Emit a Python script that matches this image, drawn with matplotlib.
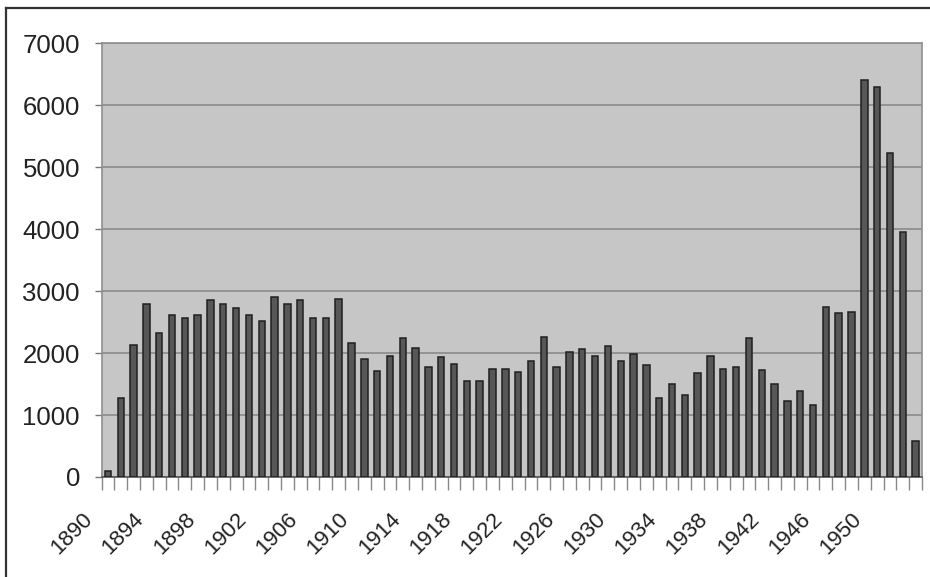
import matplotlib
matplotlib.use("Agg")
import matplotlib.pyplot as plt
import matplotlib.transforms as mtransforms
import numpy as np

plt.rcParams['font.family'] = ['Liberation Sans', 'DejaVu Sans']

years = list(range(1890, 1954))
values = [
    90, 1270, 2130, 2800, 2320, 2620, 2570, 2620, 2860, 2800,
    2720, 2620, 2520, 2910, 2800, 2860, 2570, 2570, 2880, 2170,
    1910, 1710, 1960, 2240, 2080, 1780, 1930, 1830, 1550, 1550,
    1750, 1750, 1700, 1880, 2260, 1780, 2010, 2060, 1960, 2110,
    1880, 1990, 1810, 1280, 1500, 1320, 1680, 1960, 1750, 1780,
    2240, 1730, 1500, 1230, 1380, 1170, 2750, 2650, 2670, 6410,
    6300, 5230, 3960, 580,
]
label_years = list(range(1890, 1951, 4))
y_ticks = [0, 1000, 2000, 3000, 4000, 5000, 6000, 7000]

W, H = 930, 577
fig = plt.figure(figsize=(W / 100, H / 100), dpi=100)
fig.patch.set_facecolor('white')

left, right, top, bottom = 101.5, 922.0, 43.3, 477.0
ax = fig.add_axes([left / W, 1 - bottom / H, (right - left) / W, (bottom - top) / H])
ax.set_facecolor('#c6c6c6')

ax.bar(years, values, width=0.5, color='#575757', edgecolor='#202020',
       linewidth=1.1, zorder=3)

ax.set_xlim(years[0] - 0.5, years[-1] + 0.5)
ax.set_ylim(0, 7000)

# horizontal gridlines
ax.set_yticks(y_ticks)
ax.yaxis.grid(True, color='#858585', linewidth=1.1, zorder=1)
ax.set_axisbelow(True)
ax.tick_params(axis='y', length=5, width=1, color='#777777', pad=10.5,
               labelsize=18.5, labelcolor='#222222')

# category boundary tick marks and rotated year labels
ax.set_xticks(np.arange(years[0] - 0.5, years[-1] + 1.0, 1.0), minor=True)
ax.set_xticks(label_years)
ax.set_xticklabels([str(y) for y in label_years], rotation=45,
                   ha='right', va='top')
ax.tick_params(axis='x', which='minor', length=9, width=1, color='#888888')
ax.tick_params(axis='x', which='major', length=0, pad=22.5,
               labelsize=16, labelcolor='#222222')
shift = mtransforms.ScaledTranslation(-11 / 100, 0, fig.dpi_scale_trans)
for lbl in ax.get_xticklabels():
    lbl.set_transform(lbl.get_transform() + shift)

for side in ('top', 'right', 'left'):
    ax.spines[side].set_color('#8f8f8f')
    ax.spines[side].set_linewidth(1.2)
ax.spines['bottom'].set_color('#555555')
ax.spines['bottom'].set_linewidth(1.2)

# outer chart frame (left and top edges)
fig.add_artist(plt.Line2D([6 / W, 6 / W], [0, 1 - 8 / H], color='#333333',
                          linewidth=1.6, transform=fig.transFigure))
fig.add_artist(plt.Line2D([6 / W, 1], [1 - 8 / H, 1 - 8 / H], color='#333333',
                          linewidth=1.6, transform=fig.transFigure))

fig.savefig('out.png', dpi=100, facecolor='white')
